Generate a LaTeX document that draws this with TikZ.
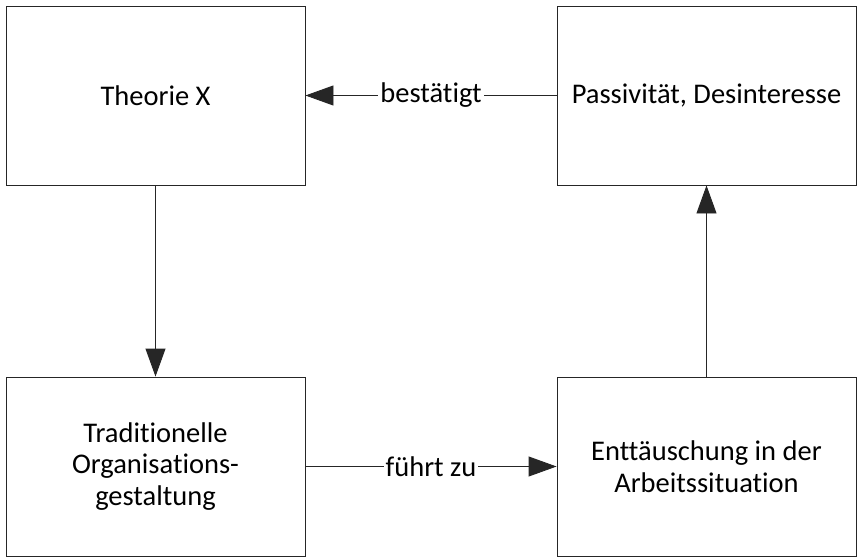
\documentclass[tikz,border=0pt]{standalone}
\usepackage{fontspec}
\setmainfont{Carlito}[Ligatures=NoCommon]
\usetikzlibrary{arrows.meta}
\begin{document}
\begin{tikzpicture}[x=1pt,y=-1pt,
  box/.style={draw=black!85,line width=0.9pt,minimum width=299pt,minimum height=179pt,align=center,font=\fontsize{28.5}{31.5}\selectfont,inner sep=0pt},
  conn/.style={draw=black!85,line width=0.9pt,-{Triangle[length=28pt,width=20pt]}},
  lbl/.style={fill=white,font=\fontsize{28.5}{31.5}\selectfont,inner sep=2pt}]
\useasboundingbox (0,0) rectangle (859,559);
\node[box] (tx) at (155.5,95.5) {Theorie X};
\node[box] (pd) at (706.5,95.5) {Passivität, Desinteresse};
\node[box] (to) at (155.5,466.5) {Traditionelle\\Organisations-\\gestaltung};
\node[box] (ea) at (706.5,466.5) {Enttäuschung in der\\Arbeitssituation};
\draw[conn] (tx) -- (to);
\draw[conn] (ea) -- (pd);
\draw[conn] (pd) -- node[lbl] {bestätigt} (tx);
\draw[conn] (to) -- node[lbl] {führt zu} (ea);
\end{tikzpicture}
\end{document}
